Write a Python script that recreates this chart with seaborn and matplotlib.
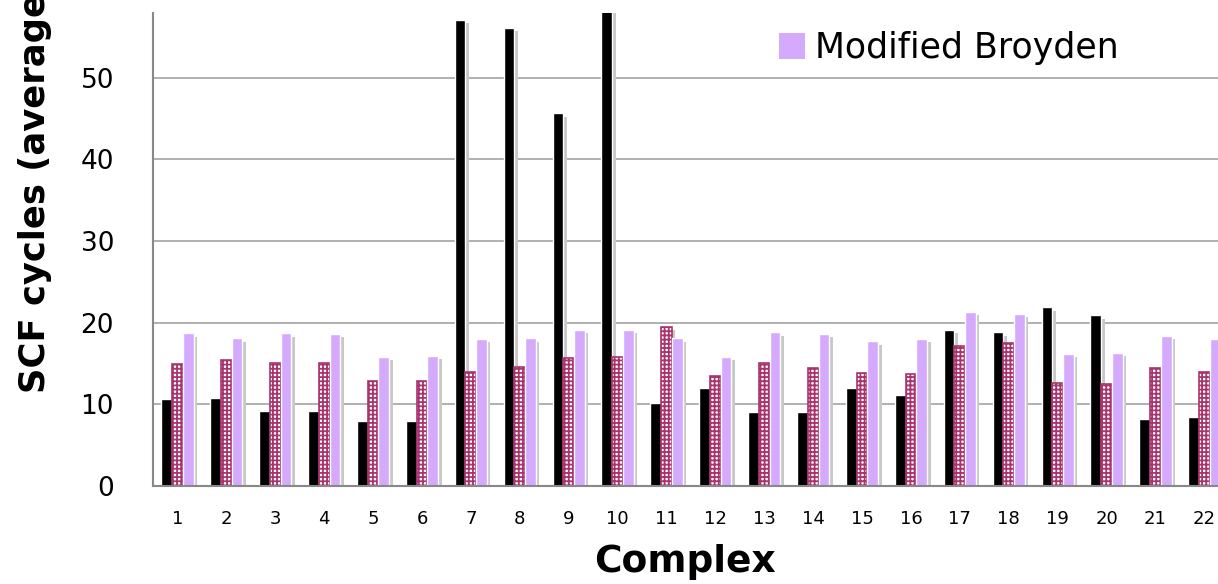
import numpy as np
import pandas as pd
import matplotlib
matplotlib.use("Agg")
import matplotlib.pyplot as plt
import matplotlib.transforms as mtransforms
from matplotlib.patches import Patch, Rectangle
from matplotlib.ticker import FixedLocator
import seaborn as sns

# valeurs (cycles SCF moyens par complexe)
complexes = [str(i) for i in range(1, 23)]
series_black = [10.6, 10.8, 9.2, 9.2, 7.9, 7.9, 57.1, 56.1, 45.6, 60.0, 10.1,
                12.0, 9.0, 9.0, 12.0, 11.2, 19.1, 18.8, 21.9, 20.9, 8.2, 8.5]
series_dotted = [14.9, 15.4, 15.1, 15.1, 12.8, 12.9, 13.9, 14.6, 15.7, 15.8, 19.5,
                 13.5, 15.0, 14.5, 13.8, 13.7, 17.1, 17.5, 12.6, 12.5, 14.4, 13.9]
modified_broyden = [18.7, 18.1, 18.7, 18.65, 15.8, 15.95, 18.0, 18.1, 19.1, 19.1, 18.1,
                    15.8, 18.8, 18.65, 17.7, 18.0, 21.35, 21.1, 16.2, 16.3, 18.4, 18.0]
series_names = ["Series 1", "Series 2", "Modified Broyden"]
y_ticks = [0, 10, 20, 30, 40, 50]

colors = {"Series 1": "#000000", "Series 2": "#A8346E", "Modified Broyden": "#D5AAFD"}

df = pd.DataFrame({
    "complex": complexes * 3,
    "cycles": series_black + series_dotted + modified_broyden,
    "series": np.repeat(series_names, len(complexes)),
})

sns.set_style("white")
plt.rcParams["font.family"] = ["DejaVu Sans"]
plt.rcParams["text.color"] = "black"
plt.rcParams["axes.labelcolor"] = "black"
plt.rcParams["xtick.labelcolor"] = "black"
plt.rcParams["ytick.labelcolor"] = "black"
plt.rcParams["hatch.linewidth"] = 1.3

fig = plt.figure(figsize=(12.18, 5.84), dpi=100)
ax = fig.add_axes([153 / 1218, 98 / 584, 1 - 153 / 1218, (486 - 13) / 584])

sns.barplot(data=df, x="complex", y="cycles", hue="series", hue_order=series_names,
            palette=colors, width=0.66, saturation=1, errorbar=None, legend=False, ax=ax)

# motif : carrés blancs dans une grille bordeaux
for bar in ax.containers[1]:
    bar.set_facecolor("white")
    bar.set_hatch("++++")
    bar.set_edgecolor(colors["Series 2"])
    bar.set_linewidth(1.2)

# ombres grises décalées
shadow_tr = mtransforms.offset_copy(ax.transData, fig=fig, x=3.5, y=-3.5, units="dots")
for bar in list(ax.patches):
    x, y = bar.get_xy()
    sh = Rectangle((x, y), bar.get_width(), bar.get_height(), transform=shadow_tr,
                   facecolor="#C8C8C8", edgecolor="none", zorder=0.9)
    ax.add_patch(sh)

ax.set_xlim(-0.5, -0.5 + (1218 - 153) / 48.9)
ax.set_ylim(0, 57.9)
ax.set_axisbelow(True)
ax.grid(axis="y", color="#AAAAAA", lw=1.3)

ax.set_yticks(y_ticks)
ax.tick_params(axis="y", length=11, width=1.2, color="#888888", pad=17, labelsize=19)
ax.set_xticks(range(len(complexes)))
ax.set_xticklabels(complexes)
ax.tick_params(axis="x", which="major", length=0, pad=17, labelsize=13)
ax.xaxis.set_minor_locator(FixedLocator(np.arange(-0.5, len(complexes), 1)))
ax.tick_params(axis="x", which="minor", length=8, width=1.2, color="#888888")

for side in ["top", "right"]:
    ax.spines[side].set_visible(False)
for side in ["left", "bottom"]:
    ax.spines[side].set_color("#888888")
    ax.spines[side].set_linewidth(1.5)

ax.set_xlabel("Complex", fontsize=27, fontweight="bold", labelpad=12)
ax.set_ylabel("SCF cycles (average", fontsize=25.5, fontweight="bold", loc="bottom")
ax.yaxis.set_label_coords(-0.095, 0.197)

fig.legend(handles=[Patch(facecolor=colors["Modified Broyden"], edgecolor="none")],
           labels=["Modified Broyden"], loc="center left",
           bbox_to_anchor=(779 / 1218, 1 - 48 / 584), frameon=False, fontsize=25,
           handlelength=0.75, handleheight=0.75, handletextpad=0.3,
           borderpad=0, borderaxespad=0)

fig.savefig("out.png", dpi=100)
